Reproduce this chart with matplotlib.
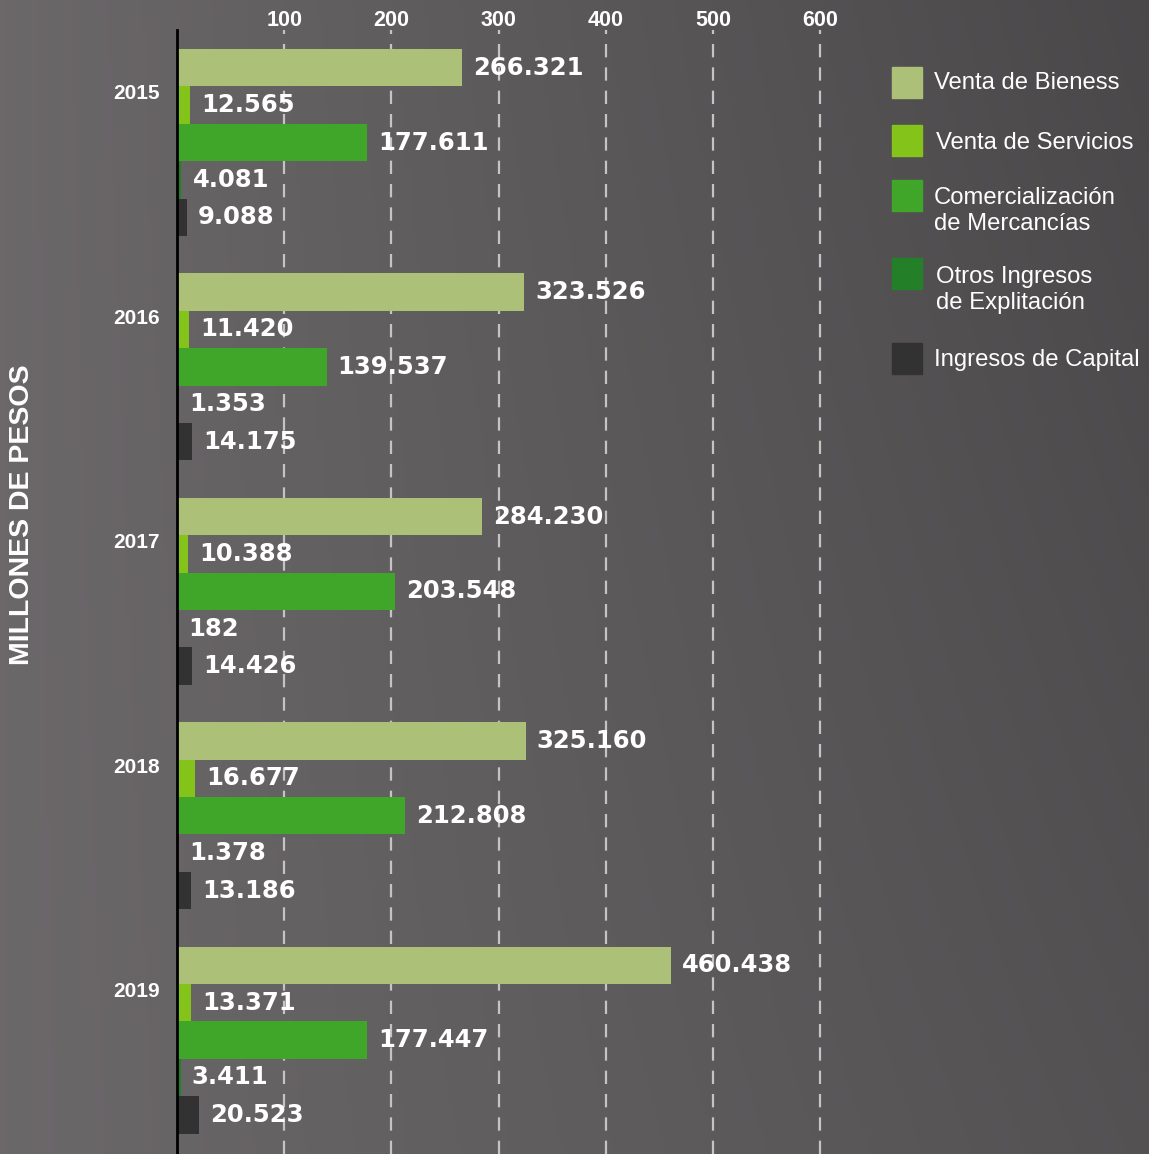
import numpy as np
import matplotlib
matplotlib.use('Agg')
import matplotlib.pyplot as plt
from matplotlib.patches import Rectangle
from matplotlib.transforms import blended_transform_factory

# ---------------- data ----------------
years = ['2015', '2016', '2017', '2018', '2019']
series_names = ['Venta de Bieness', 'Venta de Servicios',
                'Comercialización\nde Mercancías', 'Otros Ingresos\nde Explitación',
                'Ingresos de Capital']
# values in thousands (labels shown with '.' as thousands separator)
venta_bienes = [266321, 323526, 284230, 325160, 460438]
venta_servicios = [12565, 11420, 10388, 16677, 13371]
comercializacion = [177611, 139537, 203548, 212808, 177447]
otros_ingresos = [4081, 1353, 182, 1378, 3411]
ingresos_capital = [9088, 14175, 14426, 13186, 20523]
x_ticks = [100, 200, 300, 400, 500, 600]
axis_title = 'MILLONES DE PESOS'

series = [venta_bienes, venta_servicios, comercializacion, otros_ingresos, ingresos_capital]
colors = ['#acc177', '#84c41a', '#40a629', '#238029', '#323232']

# ---------------- figure ----------------
W, H = 1149, 1154
fig = plt.figure(figsize=(W / 100, H / 100), dpi=100)

# textured-looking background (simple gradient)
bg = fig.add_axes([0, 0, 1, 1], zorder=-10)
gx = np.linspace(0, 1, 300)
gy = np.linspace(0, 1, 300)
GX, GY = np.meshgrid(gx, gy)
shade = 0.42 - 0.13 * GX + 0.04 * GY * GX
bg.imshow(np.dstack([shade, shade * 0.97, shade * 0.99]), extent=[0, 1, 0, 1],
          aspect='auto', origin='upper')
bg.axis('off')

ax_left, ax_right = 177, 870
ax_top = 30
ax = fig.add_axes([ax_left / W, 0, (ax_right - ax_left) / W, 1 - ax_top / H])
ax.set_facecolor('none')

bar_px = 37.4
top_off = (49 - ax_top) / bar_px
n_groups = len(years)
n_series = len(series)
pitch = n_series + 1

for si, vals in enumerate(series):
    ys = [top_off + g * pitch + si + 0.5 for g in range(n_groups)]
    ax.barh(ys, [v / 1000 for v in vals], height=1.0, color=colors[si], zorder=3)
    for y, v in zip(ys, vals):
        ax.annotate(f"{v:,}".replace(',', '.'), xy=(v / 1000, y), xytext=(8, 0),
                    textcoords='offset points', va='center', ha='left',
                    color='white', fontsize=17.5, fontweight='bold',
                    family='DejaVu Sans', zorder=5)

xmax = (ax_right - ax_left) / 1.072
ax.set_xlim(0, xmax)
ax.set_ylim((H - ax_top) / bar_px, 0)

ax.xaxis.tick_top()
ax.set_xticks(x_ticks)
ax.set_xticklabels([str(t) for t in x_ticks], color='white', fontsize=15.5,
                   fontweight='bold', family='Liberation Sans')
ax.tick_params(axis='x', length=0, pad=-1)
ax.set_yticks([])
ax.grid(axis='x', color='#c4c4c4', linewidth=1.6, linestyle=(0, (6, 4.5)), zorder=1)
ax.set_axisbelow(True)
for s in ['top', 'right', 'bottom']:
    ax.spines[s].set_visible(False)
ax.spines['left'].set_color('black')
ax.spines['left'].set_linewidth(2)
ax.spines['left'].set_zorder(6)

# year labels
trans = blended_transform_factory(fig.transFigure, ax.transData)
for g, yr in enumerate(years):
    ax.text(160 / W, top_off + g * pitch + 1.2, yr, transform=trans,
            ha='right', va='center', color='white', fontsize=15,
            fontweight='bold', family='Liberation Sans')

# axis title
fig.text(22 / W, 1 - 515 / H, axis_title, rotation=90, ha='center', va='center',
         color='white', fontsize=20.5, fontweight='bold', family='Liberation Sans')

# legend
sq_centers = [82, 140, 195, 273, 358]
txt_centers = [83, 143, 211, 290, 360]
txt_x = [934, 936, 934, 936, 934]
for i, name in enumerate(series_names):
    c = sq_centers[i]
    fig.add_artist(Rectangle((892 / W, 1 - (c + 15.5) / H), 30 / W, 31 / H,
                             transform=fig.transFigure, color=colors[i]))
    fig.text(txt_x[i] / W, 1 - txt_centers[i] / H, name, ha='left', va='center',
             color='white', fontsize=17.2, family='Liberation Sans', linespacing=1.2)

fig.savefig('out.png', dpi=100)
